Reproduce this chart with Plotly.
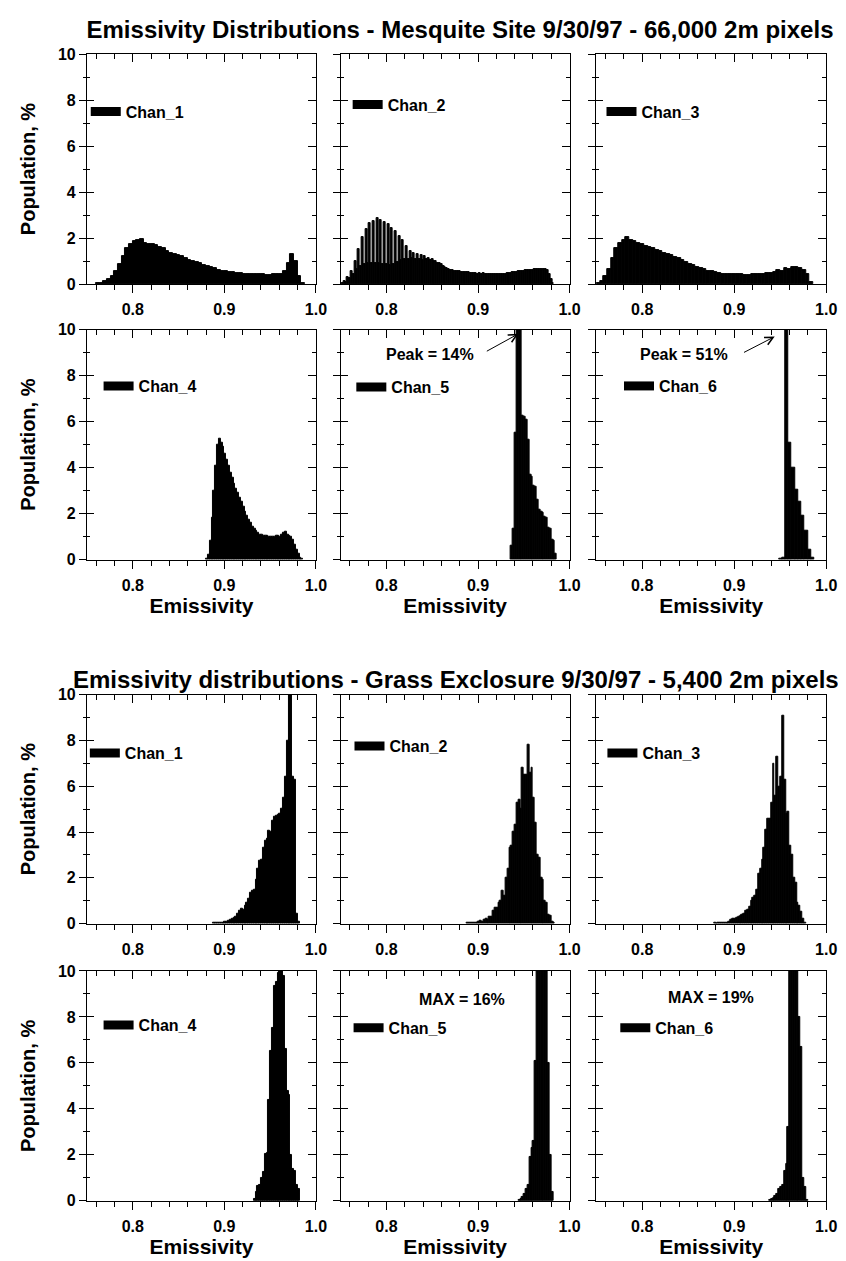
import numpy as np
import plotly.graph_objects as go

# population (%) per emissivity bin
# each panel: centre of first bin, bin width
mesq_bins = [(0.762, 0.004), (0.752, 0.002), (0.752, 0.004),
             (0.881, 0.002), (0.937, 0.002), (0.95025, 0.0035)]
grass_bins = [(0.889, 0.002), (0.889, 0.002), (0.879, 0.002),
              (0.933, 0.002), (0.945, 0.002), (0.939, 0.002)]

# Mesquite site 9/30/97
mesq_ch1 = [0.03, 0.06, 0.12, 0.2, 0.35, 0.55, 0.85, 1.2, 1.55, 1.75,
            1.85, 1.9, 1.95, 1.8, 1.75, 1.75, 1.7, 1.6, 1.55, 1.45,
            1.35, 1.3, 1.25, 1.2, 1.15, 1.05, 1.0, 0.95, 0.9, 0.82,
            0.78, 0.72, 0.68, 0.62, 0.58, 0.55, 0.52, 0.5, 0.48, 0.46,
            0.45, 0.44, 0.44, 0.43, 0.42, 0.42, 0.41, 0.41, 0.42, 0.43,
            0.45, 0.55, 0.9, 1.3, 1.0, 0.35, 0.05]
mesq_ch2 = [0.05, 0.15, 0.1, 0.3, 0.25, 0.55, 0.45, 1.0, 0.65, 1.5,
            0.8, 2.05, 0.85, 2.4, 0.9, 2.65, 0.9, 2.75, 0.9, 2.85,
            0.9, 2.8, 0.88, 2.7, 0.85, 2.6, 0.82, 2.45, 0.85, 2.3,
            0.95, 2.1, 1.05, 1.9, 1.1, 1.65, 1.1, 1.45, 1.12, 1.35,
            1.1, 1.3, 1.1, 1.25, 1.05, 1.2, 1.1, 1.15, 1.05, 1.1,
            1.0, 1.0, 0.92, 0.9, 0.85, 0.8, 0.75, 0.7, 0.65, 0.62,
            0.6, 0.58, 0.57, 0.56, 0.55, 0.54, 0.53, 0.52, 0.5, 0.5,
            0.48, 0.47, 0.46, 0.47, 0.45, 0.46, 0.45, 0.46, 0.45, 0.44,
            0.45, 0.44, 0.43, 0.44, 0.43, 0.42, 0.43, 0.44, 0.45, 0.45,
            0.46, 0.47, 0.48, 0.5, 0.52, 0.53, 0.55, 0.56, 0.58, 0.58,
            0.6, 0.6, 0.62, 0.6, 0.62, 0.64, 0.66, 0.67, 0.66, 0.67,
            0.65, 0.64, 0.6, 0.45, 0.2, 0.05]
mesq_ch3 = [0.05, 0.15, 0.35, 0.65, 1.15, 1.55, 1.8, 1.9, 2.05, 1.9,
            1.85, 1.8, 1.72, 1.65, 1.6, 1.55, 1.48, 1.42, 1.35, 1.3,
            1.25, 1.18, 1.12, 1.05, 0.95, 0.88, 0.82, 0.75, 0.7, 0.65,
            0.58, 0.55, 0.5, 0.48, 0.45, 0.44, 0.42, 0.43, 0.42, 0.42,
            0.4, 0.4, 0.42, 0.43, 0.44, 0.45, 0.46, 0.48, 0.5, 0.6,
            0.55, 0.7, 0.65, 0.75, 0.72, 0.7, 0.6, 0.45, 0.1]
mesq_ch4 = [0.05, 0.2, 0.8, 1.8, 3.0, 4.1, 5.0, 5.25, 5.1, 4.9,
            4.6, 4.35, 4.1, 3.8, 3.55, 3.3, 3.1, 2.9, 2.7, 2.5,
            2.3, 2.1, 1.9, 1.75, 1.6, 1.45, 1.35, 1.25, 1.15, 1.1,
            1.08, 1.05, 1.05, 1.02, 1.0, 1.0, 1.0, 1.0, 1.02, 1.05,
            1.0, 1.1, 1.15, 1.2, 1.1, 1.05, 1.0, 0.85, 0.65, 0.45,
            0.25, 0.1, 0.03]
mesq_ch5 = [0.6, 1.35, 5.5, 12.0, 14.0, 13.0, 6.25, 6.2, 6.1, 5.2,
            3.7, 3.6, 3.2, 3.15, 2.6, 2.15, 2.1, 2.05, 1.85, 1.8,
            1.4, 1.35, 0.85, 0.8, 0.26]
mesq_ch6 = [0.05, 0.08, 51.0, 5.1, 4.0, 3.05, 2.5, 1.9, 1.25, 0.45, 0.1]

# Grass exclosure 9/30/97
grass_ch1 = [0.03, 0.02, 0.03, 0.03, 0.05, 0.05, 0.08, 0.1, 0.12, 0.15,
             0.2, 0.25, 0.3, 0.45, 0.55, 0.65, 0.6, 0.8, 0.9, 1.1,
             1.35, 1.45, 1.5, 1.9, 2.4, 2.75, 2.8, 3.3, 3.6, 3.7,
             4.05, 4.0, 4.5, 4.65, 4.7, 4.75, 4.8, 5.0, 5.5, 6.4,
             8.0, 10.3, 10.5, 6.4, 6.3, 0.45, 0.1]
grass_ch2 = [0.02, 0.02, 0.02, 0.03, 0.03, 0.05, 0.08, 0.12, 0.1, 0.15,
             0.2, 0.15, 0.3, 0.3, 0.55, 0.7, 0.7, 0.9, 1.0, 1.45,
             1.2, 2.0, 2.4, 3.3, 3.4, 4.0, 4.3, 5.3, 5.4, 5.0,
             6.8, 6.5, 6.5, 7.8, 6.6, 6.8, 5.5, 4.4, 3.0, 2.9,
             2.0, 1.9, 1.0, 0.9, 0.4, 0.35, 0.1, 0.03]
grass_ch3 = [0.02, 0.0, 0.02, 0.02, 0.03, 0.02, 0.03, 0.05, 0.08,
             0.15, 0.2, 0.2, 0.25, 0.3, 0.35, 0.4, 0.45, 0.55, 0.6,
             0.75, 1.0, 1.15, 1.2, 1.5, 2.2, 2.4, 2.8, 3.3, 4.1,
             4.6, 4.6, 5.3, 7.0, 5.6, 7.3, 6.0, 6.4, 9.1, 6.3,
             4.8, 4.9, 3.4, 3.0, 2.0, 1.8, 0.9, 0.8, 0.5, 0.2, 0.05]
grass_ch4 = [0.1, 0.4, 0.65, 0.7, 1.0, 1.25, 2.05, 2.1, 4.4, 6.5,
             7.5, 9.35, 9.5, 9.9, 10.3, 10.1, 9.8, 6.6, 4.8, 4.6,
             2.0, 1.4, 1.3, 0.7, 0.5]
grass_ch5 = [0.05, 0.1, 0.15, 0.3, 0.5, 0.7, 1.9, 2.3, 2.6, 6.1,
             12.0, 16.0, 15.0, 13.0, 11.0, 10.2, 6.0, 2.0, 0.4]
grass_ch6 = [0.05, 0.08, 0.12, 0.2, 0.3, 0.5, 0.6, 0.7, 1.3, 1.6,
             3.2, 12.0, 19.0, 17.0, 14.0, 12.0, 8.0, 6.7, 1.0, 0.6, 0.05]

channels = ["Chan_1", "Chan_2", "Chan_3", "Chan_4", "Chan_5", "Chan_6"]
title_top = "Emissivity Distributions - Mesquite Site 9/30/97 - 66,000 2m pixels"
title_bottom = "Emissivity distributions - Grass Exclosure 9/30/97 - 5,400 2m pixels"
x_ticks = [0.8, 0.9, 1.0]
x_ticktext = ["0.8", "0.9", "1.0"]

series = [mesq_ch1, mesq_ch2, mesq_ch3, mesq_ch4, mesq_ch5, mesq_ch6,
          grass_ch1, grass_ch2, grass_ch3, grass_ch4, grass_ch5, grass_ch6]
bins = mesq_bins + grass_bins

# page geometry (pixels)
W, H = 846, 1261
col_px = [(80, 312), (337, 569), (596, 829)]
row_px = [(38.6, 271.7), (318, 551), (688, 920), (968, 1201)]
XR = [0.75, 1.0]
YR = [0, 10]

# legend swatch left edge / centre, in data units of each panel
legend_pos = [(0.753, 7.5), (0.762, 7.8), (0.760, 7.5),
              (0.767, 7.55), (0.766, 7.5), (0.779, 7.55),
              (0.752, 7.45), (0.764, 7.75), (0.761, 7.45),
              (0.767, 7.64), (0.763, 7.52), (0.775, 7.52)]
notes = [(4, "Peak = 14%", 0.848, 8.91), (5, "Peak = 51%", 0.845, 8.94),
         (10, "MAX = 16%", 0.883, 8.75), (11, "MAX = 19%", 0.875, 8.85)]
arrows = [(4, 0.944, 9.82, 0.908, 9.03), (5, 0.944, 9.7, 0.909, 8.98)]


def ax_name(kind, n):
    return f"{kind}axis" if n == 1 else f"{kind}axis{n}"


def ax_ref(kind, n):
    return kind if n == 1 else f"{kind}{n}"


black = "black"
fig = go.Figure()
layout = {}

for k in range(12):
    r, c = divmod(k, 3)
    x0, x1 = col_px[c]
    top, bot = row_px[r]
    n, no, nl = k + 1, k + 13, k + 25
    xm, ym = ax_ref("x", n), ax_ref("y", n)
    xo, yo, yl = ax_ref("x", no), ax_ref("y", no), ax_ref("y", nl)

    start, width = bins[k]
    vals = series[k]
    centres = np.round(start + width * np.arange(len(vals)), 5)
    fig.add_trace(go.Bar(x=centres, y=vals, width=width, xaxis=xm, yaxis=ym,
                         marker=dict(color=black, line=dict(color=black, width=1)),
                         showlegend=False))

    leg = "legend" if n == 1 else f"legend{n}"
    fig.add_trace(go.Scatter(x=[None], y=[None], mode="lines", xaxis=xo, yaxis=yo,
                             name=channels[(r % 2) * 3 + c], legend=leg,
                             line=dict(color=black, width=9)))
    fig.add_trace(go.Scatter(x=[None], y=[None], mode="lines", xaxis=xo, yaxis=yl,
                             showlegend=False, hoverinfo="skip"))

    layout[ax_name("x", n)] = dict(
        domain=[x0 / W, x1 / W], anchor=ym, range=XR,
        tickmode="array", tickvals=x_ticks, ticktext=x_ticktext,
        ticks="outside", ticklen=8, tickcolor=black, tickfont=dict(size=16),
        minor=dict(tick0=0.76, dtick=0.02, ticks="outside", ticklen=5, tickcolor=black),
        showline=True, linecolor=black, linewidth=1, mirror=True,
        showgrid=False, zeroline=False, ticklabelstandoff=3,
        title=dict(text="Emissivity" if r % 2 else "", font=dict(size=21), standoff=3))
    layout[ax_name("y", n)] = dict(
        domain=[1 - bot / H, 1 - top / H], anchor=xm, range=YR,
        tick0=0, dtick=2, ticks="outside", ticklen=7, tickcolor=black, tickfont=dict(size=16),
        minor=dict(dtick=1, ticks="outside", ticklen=3, tickcolor=black),
        showticklabels=(c == 0), showline=True, linecolor=black, linewidth=1,
        mirror=True, showgrid=False, zeroline=False,
        title=dict(text="Population, %" if c == 0 else "", font=dict(size=20), standoff=16))
    layout[ax_name("x", no)] = dict(
        overlaying=xm, side="top", anchor=yo, range=XR,
        tickmode="array", tickvals=x_ticks, ticks="inside", ticklen=8, tickcolor=black,
        minor=dict(tick0=0.76, dtick=0.02, ticks="inside", ticklen=5, tickcolor=black),
        showticklabels=False, showline=False, showgrid=False, zeroline=False)
    layout[ax_name("y", no)] = dict(
        overlaying=ym, side="right", anchor=xo, range=YR, tick0=0, dtick=2,
        ticks="inside", ticklen=8, tickcolor=black,
        minor=dict(dtick=1, ticks="inside", ticklen=4, tickcolor=black),
        showticklabels=False, showline=False, showgrid=False, zeroline=False)
    layout[ax_name("y", nl)] = dict(
        overlaying=ym, side="left", anchor=xo, range=YR, tick0=0, dtick=2,
        ticks="inside", ticklen=7, tickcolor=black,
        minor=dict(dtick=1, ticks="inside", ticklen=3, tickcolor=black),
        showticklabels=False, showline=False, showgrid=False, zeroline=False)

    lx, ly = legend_pos[k]
    px = x0 + (lx - XR[0]) / (XR[1] - XR[0]) * (x1 - x0)
    py = bot - (ly - YR[0]) / (YR[1] - YR[0]) * (bot - top)
    layout[leg] = dict(x=(px - 4) / W, y=1 - py / H, xanchor="left", yanchor="middle",
                       bgcolor="rgba(0,0,0,0)", borderwidth=0, font=dict(size=16))

annotations = []
for k, text, x, y in notes:
    annotations.append(dict(xref=ax_ref("x", k + 1), yref=ax_ref("y", k + 1), x=x, y=y,
                            text=text, showarrow=False, font=dict(size=16)))
for k, x, y, ax, ay in arrows:
    annotations.append(dict(xref=ax_ref("x", k + 1), yref=ax_ref("y", k + 1), x=x, y=y,
                            axref=ax_ref("x", k + 1), ayref=ax_ref("y", k + 1), ax=ax, ay=ay,
                            text="", showarrow=True, arrowhead=5, arrowsize=1.6,
                            arrowwidth=1, arrowcolor=black))
annotations.append(dict(xref="paper", yref="paper", x=453.5 / W, y=1 - 673 / H,
                        text=title_bottom, showarrow=False, font=dict(size=24),
                        xanchor="center", yanchor="middle"))

fig.update_layout(
    width=W, height=H, margin=dict(l=0, r=0, t=0, b=0),
    paper_bgcolor="white", plot_bgcolor="white",
    font=dict(family="Liberation Sans, Arial, sans-serif", size=15, color=black, weight="bold"),
    title=dict(text=title_top, x=452 / W, y=1 - 22 / H, xanchor="center", yanchor="middle",
               font=dict(size=24)),
    bargap=0, annotations=annotations, **layout)

fig.write_html("out.html")
